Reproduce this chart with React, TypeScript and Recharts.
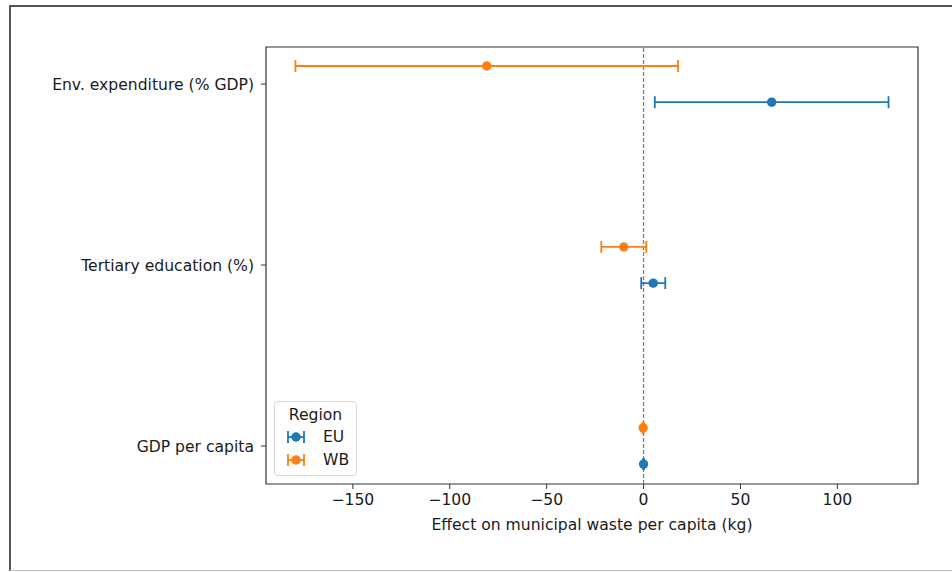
import { ScatterChart, Scatter, XAxis, YAxis, ErrorBar, ReferenceLine, ReferenceArea, Legend } from 'recharts';

const EU_COLOR = '#1f77b4';
const WB_COLOR = '#ff7f0e';
const FONT = '"DejaVu Sans", sans-serif';
const FS = 15.6;

// bottom to top, like the picture
const categories = ['GDP per capita', 'Tertiary education (%)', 'Env. expenditure (% GDP)'];
const euMean = [0.0, 5.0, 66.1];
const euErr = [0.2, 6.2, 60.3];
const wbMean = [-0.2, -10.2, -80.9];
const wbErr = [0.3, 11.6, 98.7];
const xTicks = [-150, -100, -50, 0, 50, 100];

const euData = categories.map((c, i) => ({ name: c, x: euMean[i], y: i - 0.1, err: euErr[i] }));
const wbData = categories.map((c, i) => ({ name: c, x: wbMean[i], y: i + 0.1, err: wbErr[i] }));

const X_DOMAIN: [number, number] = [-194.8, 141.6];
const Y_DOMAIN: [number, number] = [-0.21, 2.205];

function ErrIcon({ color }: { color: string }) {
  return (
    <svg width={20} height={14} style={{ display: 'block' }}>
      <line x1={2} y1={7} x2={18} y2={7} stroke={color} strokeWidth={1.8} />
      <line x1={2} y1={1} x2={2} y2={13} stroke={color} strokeWidth={1.8} />
      <line x1={18} y1={1} x2={18} y2={13} stroke={color} strokeWidth={1.8} />
      <circle cx={10} cy={7} r={4.7} fill={color} />
    </svg>
  );
}

function RegionLegend() {
  const rows = [
    { label: 'EU', color: EU_COLOR },
    { label: 'WB', color: WB_COLOR },
  ];
  return (
    <div
      style={{
        width: 83,
        height: 75,
        boxSizing: 'border-box',
        border: '1px solid #d6d6d6',
        borderRadius: 4,
        background: 'rgba(255,255,255,0.8)',
        fontFamily: FONT,
        fontSize: FS,
        color: '#1a1a1a',
      }}
    >
      <div style={{ textAlign: 'center', marginTop: 3, lineHeight: '20px' }}>Region</div>
      {rows.map((r) => (
        <div key={r.label} style={{ display: 'flex', alignItems: 'center', height: 23, marginLeft: 11 }}>
          <ErrIcon color={r.color} />
          <span style={{ marginLeft: 17 }}>{r.label}</span>
        </div>
      ))}
    </div>
  );
}

export default function App() {
  return (
    <div style={{ position: 'absolute', left: 0, top: 0, width: 952, height: 572, background: '#fff' }}>
      <div
        style={{
          position: 'absolute',
          left: 9,
          top: 5,
          width: 960,
          height: 563,
          borderLeft: '2px solid #555',
          borderTop: '2px solid #555',
          borderBottom: '1px solid #bbb',
        }}
      />
      <ScatterChart
        width={952}
        height={572}
        margin={{ top: 47, right: 34, bottom: 28, left: 0 }}
        style={{ position: 'absolute', left: 0, top: 0 }}
      >
        <XAxis
          type="number"
          dataKey="x"
          domain={X_DOMAIN}
          ticks={xTicks}
          allowDataOverflow
          height={60}
          axisLine={false}
          tickLine={{ stroke: '#333' }}
          tickSize={5}
          tickMargin={5}
          tick={{ fill: '#1a1a1a', fontSize: FS, fontFamily: FONT }}
          tickFormatter={(v: number) => String(v).replace('-', '\u2212')}
          label={{
            value: 'Effect on municipal waste per capita (kg)',
            position: 'insideBottom',
            offset: 14,
            fill: '#1a1a1a',
            fontSize: FS,
            fontFamily: FONT,
          }}
        />
        <YAxis
          type="number"
          dataKey="y"
          domain={Y_DOMAIN}
          ticks={[0, 1, 2]}
          allowDataOverflow
          width={266}
          axisLine={false}
          tickLine={{ stroke: '#333' }}
          tickSize={5}
          tickMargin={7}
          tick={{ fill: '#1a1a1a', fontSize: FS, fontFamily: FONT }}
          tickFormatter={(v: number) => categories[v] ?? ''}
        />
        <ReferenceArea
          x1={X_DOMAIN[0]}
          x2={X_DOMAIN[1]}
          y1={Y_DOMAIN[0]}
          y2={Y_DOMAIN[1]}
          fill="none"
          stroke="#333"
          strokeWidth={1.2}
        />
        <ReferenceLine x={0} stroke="#808080" strokeDasharray="4 2" strokeWidth={1.3} />
        <Scatter name="EU" data={euData} fill={EU_COLOR} isAnimationActive={false} shape={(p: any) => <circle cx={p.cx} cy={p.cy} r={4.7} fill={EU_COLOR} />}>
          <ErrorBar dataKey="err" direction="x" width={6} stroke={EU_COLOR} strokeWidth={1.8} />
        </Scatter>
        <Scatter name="WB" data={wbData} fill={WB_COLOR} isAnimationActive={false} shape={(p: any) => <circle cx={p.cx} cy={p.cy} r={4.7} fill={WB_COLOR} />}>
          <ErrorBar dataKey="err" direction="x" width={6} stroke={WB_COLOR} strokeWidth={1.8} />
        </Scatter>
        <Legend
          layout="vertical"
          align="center"
          verticalAlign="middle"
          wrapperStyle={{ left: 274, top: 401, width: 83, height: 75 }}
          content={() => <RegionLegend />}
        />
      </ScatterChart>
    </div>
  );
}
